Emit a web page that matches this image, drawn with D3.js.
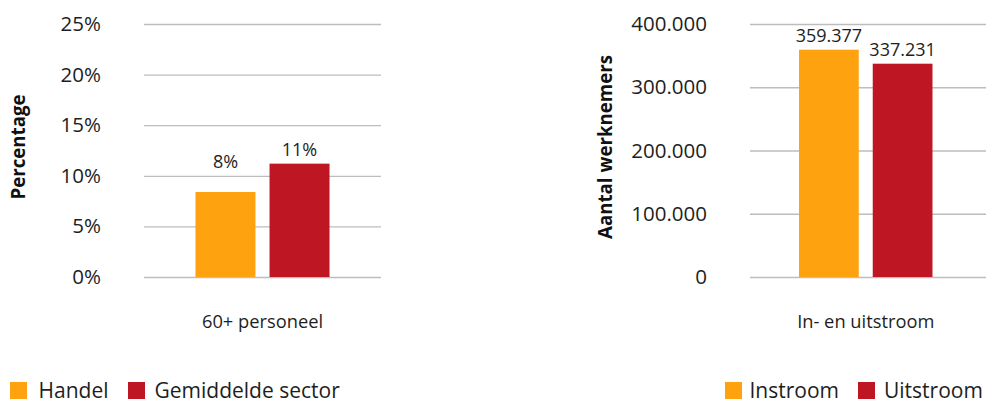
<!DOCTYPE html>
<html>
<head>
<meta charset="utf-8">
<script src="https://cdn.jsdelivr.net/npm/d3@7"></script>
<style>
  body { margin: 0; background: #fff; }
  svg { display: block; font-family: "Open Sans", sans-serif; }
</style>
</head>
<body>
<div id="chart"></div>
<script>
// data
const leftCategories = ["60+ personeel"];
const leftSeries = ["Handel", "Gemiddelde sector"];
const leftValues = [0.084, 0.112];
const leftTicks = [0, 0.05, 0.10, 0.15, 0.20, 0.25];

const rightCategories = ["In- en uitstroom"];
const rightSeries = ["Instroom", "Uitstroom"];
const rightValues = [359377, 337231];
const rightTicks = [0, 100000, 200000, 300000, 400000];

const colors = ["#fea30f", "#be1622"];

const width = 987, height = 403;
const svg = d3.select("#chart")
  .append("svg")
  .attr("width", width)
  .attr("height", height);

const plotTop = 24, plotBottom = 277;

const nl = d3.formatLocale({ decimal: ",", thousands: ".", grouping: [3], currency: ["€", ""] });
const fmtNum = nl.format(",.0f");
const fmtPct = d3.format(".0%");

function drawChart(opt) {
  const g = svg.append("g");

  const y = d3.scaleLinear().domain(opt.domain).range([plotBottom, plotTop]);

  // gridlines + tick labels
  const yAxis = d3.axisLeft(y)
    .tickValues(opt.ticks)
    .tickSize(-(opt.x1 - opt.x0))
    .tickPadding(opt.x0 - opt.labelX)
    .tickFormat(opt.tickFormat);

  const ax = g.append("g")
    .attr("transform", `translate(${opt.x0},0)`)
    .call(yAxis);
  ax.select(".domain").remove();
  ax.selectAll(".tick line").attr("stroke", "#bdbdbd").attr("stroke-width", 1.3);
  ax.selectAll(".tick text")
    .attr("fill", "#1e1e1e")
    .style("font-size", "20.5px")
    .style("font-family", "Open Sans, sans-serif");

  // category band + series band
  const x0 = d3.scaleBand().domain(opt.categories).range([opt.x0, opt.x1])
    .paddingOuter(0.384).align(opt.align);
  const x1 = d3.scaleBand().domain(opt.series).range([0, x0.bandwidth()]).paddingInner(0.19);

  const bars = g.append("g")
    .attr("transform", `translate(${x0(opt.categories[0])},0)`);

  bars.selectAll("rect")
    .data(opt.values)
    .join("rect")
    .attr("x", (d, i) => x1(opt.series[i]))
    .attr("y", d => y(d))
    .attr("width", x1.bandwidth())
    .attr("height", d => plotBottom - y(d))
    .attr("fill", (d, i) => colors[i]);

  // value labels, pushed above a gridline when they would sit on it
  const gridYs = opt.ticks.map(t => y(t));
  bars.selectAll("text")
    .data(opt.values)
    .join("text")
    .attr("x", (d, i) => x1(opt.series[i]) + x1.bandwidth() / 2)
    .attr("y", d => {
      let base = y(d) - 8;
      const hit = gridYs.find(gy => gy > base - 13 && gy < base + 1);
      if (hit !== undefined) base = hit - 8;
      return base;
    })
    .attr("text-anchor", "middle")
    .attr("fill", "#1e1e1e")
    .style("font-size", "18px")
    .text(opt.labelFormat);

  // category label
  g.append("text")
    .attr("x", x0(opt.categories[0]) + x0.bandwidth() / 2)
    .attr("y", 328)
    .attr("text-anchor", "middle")
    .attr("fill", "#1e1e1e")
    .style("font-size", "18.3px")
    .text(opt.categories[0]);

  // y axis title
  g.append("text")
    .attr("transform", "rotate(-90)")
    .attr("x", -147)
    .attr("y", opt.titleX)
    .attr("text-anchor", "middle")
    .attr("fill", "#111")
    .style("font-size", "18.7px")
    .style("font-weight", "bold")
    .text(opt.title);

  // legend
  const leg = g.append("g");
  opt.series.forEach((s, i) => {
    leg.append("rect")
      .attr("x", opt.legendBox[i]).attr("y", 382)
      .attr("width", 17).attr("height", 17)
      .attr("fill", colors[i]);
    leg.append("text")
      .attr("x", opt.legendText[i]).attr("y", 398)
      .attr("fill", "#1e1e1e")
      .style("font-size", "21px")
      .text(s);
  });
}

drawChart({
  categories: leftCategories, series: leftSeries, values: leftValues,
  ticks: leftTicks, domain: [0, 0.25],
  x0: 144, x1: 381, labelX: 101, align: 0.5,
  tickFormat: fmtPct, labelFormat: fmtPct,
  title: "Percentage", titleX: 25,
  legendBox: [10, 128], legendText: [38.5, 154.5]
});

drawChart({
  categories: rightCategories, series: rightSeries, values: rightValues,
  ticks: rightTicks, domain: [0, 400000],
  x0: 750, x1: 986, labelX: 707, align: 0.478,
  tickFormat: fmtNum, labelFormat: fmtNum,
  title: "Aantal werknemers", titleX: 612, legendBox: [725, 858], legendText: [749.5, 884]
});
</script>
</body>
</html>
